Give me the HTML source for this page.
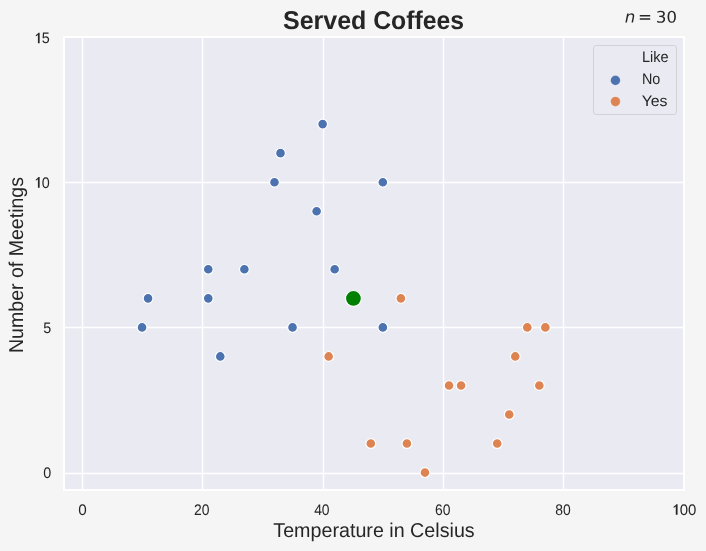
<!DOCTYPE html>
<html><head><meta charset="utf-8"><title>Served Coffees</title>
<style>
html,body{margin:0;padding:0;background:#f5f5f5;}
body{width:706px;height:551px;overflow:hidden;}
svg{display:block;will-change:transform;}
text{font-family:"Liberation Sans",sans-serif;fill:#262626;white-space:pre;text-rendering:geometricPrecision;}
.tk{font-size:15.28px;}
.lb{font-size:20px;}
.ti{font-size:25.7px;font-weight:bold;}
.lg{font-size:15.28px;}
</style></head><body>
<svg width="706" height="551" viewBox="0 0 706 551">
<rect x="0" y="0" width="706" height="551" fill="#f5f5f5"/>
<rect x="64.0" y="37.0" width="620.0" height="453.0" fill="#eaeaf2"/>
<g stroke="#ffffff" stroke-width="1.39" fill="none">
<line x1="82.5" y1="37.0" x2="82.5" y2="490.0"/>
<line x1="202.5" y1="37.0" x2="202.5" y2="490.0"/>
<line x1="323.5" y1="37.0" x2="323.5" y2="490.0"/>
<line x1="443.5" y1="37.0" x2="443.5" y2="490.0"/>
<line x1="563.5" y1="37.0" x2="563.5" y2="490.0"/>
<line x1="64.0" y1="473.5" x2="684.0" y2="473.5"/>
<line x1="64.0" y1="327.5" x2="684.0" y2="327.5"/>
<line x1="64.0" y1="182.5" x2="684.0" y2="182.5"/>
</g>
<g stroke="#ffffff" stroke-width="1.2" fill="#4c72b0">
<circle cx="142.05" cy="327.38" r="4.9"/>
<circle cx="148.07" cy="298.35" r="4.9"/>
<circle cx="208.27" cy="269.31" r="4.9"/>
<circle cx="208.27" cy="298.35" r="4.9"/>
<circle cx="220.30" cy="356.42" r="4.9"/>
<circle cx="244.38" cy="269.31" r="4.9"/>
<circle cx="274.48" cy="182.19" r="4.9"/>
<circle cx="280.50" cy="153.15" r="4.9"/>
<circle cx="292.54" cy="327.38" r="4.9"/>
<circle cx="316.62" cy="211.23" r="4.9"/>
<circle cx="322.63" cy="124.12" r="4.9"/>
<circle cx="334.67" cy="269.31" r="4.9"/>
<circle cx="382.83" cy="182.19" r="4.9"/>
<circle cx="382.83" cy="327.38" r="4.9"/>
</g>
<g stroke="#ffffff" stroke-width="1.2" fill="#dd8452">
<circle cx="328.65" cy="356.42" r="4.9"/>
<circle cx="370.79" cy="443.54" r="4.9"/>
<circle cx="400.89" cy="298.35" r="4.9"/>
<circle cx="406.91" cy="443.54" r="4.9"/>
<circle cx="424.97" cy="472.58" r="4.9"/>
<circle cx="449.04" cy="385.46" r="4.9"/>
<circle cx="461.08" cy="385.46" r="4.9"/>
<circle cx="497.20" cy="443.54" r="4.9"/>
<circle cx="509.24" cy="414.50" r="4.9"/>
<circle cx="515.26" cy="356.42" r="4.9"/>
<circle cx="527.30" cy="327.38" r="4.9"/>
<circle cx="539.33" cy="385.46" r="4.9"/>
<circle cx="545.35" cy="327.38" r="4.9"/>
</g>
<circle cx="353.43" cy="298.45" r="7.95" fill="#008000" stroke="#ffffff" stroke-width="1.15"/>
<rect x="64.0" y="37.0" width="620.0" height="453.0" fill="none" stroke="#ffffff" stroke-width="2"/>
<rect x="593.5" y="45.5" width="83" height="69" rx="2.8" ry="2.8" fill="#eaeaf2" fill-opacity="0.8" stroke="#cccccc" stroke-opacity="0.8" stroke-width="1"/>
<circle cx="615.45" cy="80.4" r="4.85" fill="#4c72b0" stroke="#fff" stroke-width="0.5" stroke-opacity="0.5"/>
<circle cx="615.45" cy="101.55" r="4.85" fill="#dd8452" stroke="#fff" stroke-width="0.5" stroke-opacity="0.5"/>
<text id="xt0" class="tk" x="78.14" y="514.85" textLength="8.50" lengthAdjust="spacingAndGlyphs">0</text>
<text id="xt20" class="tk" x="194.01" y="514.85" textLength="15.46" lengthAdjust="spacingAndGlyphs">20</text>
<text id="xt40" class="tk" x="314.15" y="514.85" textLength="15.46" lengthAdjust="spacingAndGlyphs">40</text>
<text id="xt60" class="tk" x="434.94" y="514.85" textLength="15.46" lengthAdjust="spacingAndGlyphs">60</text>
<text id="xt80" class="tk" x="555.33" y="514.85" textLength="15.46" lengthAdjust="spacingAndGlyphs">80</text>
<path fill="#262626" transform="translate(671.36,514.85) scale(14.974,-15.28)" d="M0.415,0L0.295,0L0.295,0.545Q0.225,0.485 0.15,0.452L0.15,0.535Q0.27,0.595 0.335,0.693L0.415,0.693Z"/>
<text id="xt100" class="tk" x="679.69" y="514.85" textLength="16.65" lengthAdjust="spacingAndGlyphs">00</text>
<text id="yt0" class="tk" x="43.36" y="478.03" textLength="7.99" lengthAdjust="spacingAndGlyphs">0</text>
<text id="yt5" class="tk" x="43.36" y="332.83" textLength="7.99" lengthAdjust="spacingAndGlyphs">5</text>
<path fill="#262626" transform="translate(33.68,187.64) scale(14.363,-15.28)" d="M0.415,0L0.295,0L0.295,0.545Q0.225,0.485 0.15,0.452L0.15,0.535Q0.27,0.595 0.335,0.693L0.415,0.693Z"/>
<text id="yt10" class="tk" x="41.66" y="187.64" textLength="7.99" lengthAdjust="spacingAndGlyphs">0</text>
<path fill="#262626" transform="translate(33.68,43.25) scale(14.363,-15.28)" d="M0.415,0L0.295,0L0.295,0.545Q0.225,0.485 0.15,0.452L0.15,0.535Q0.27,0.595 0.335,0.693L0.415,0.693Z"/>
<text id="yt15" class="tk" x="41.66" y="43.25" textLength="7.99" lengthAdjust="spacingAndGlyphs">5</text>
<text id="lgL" class="lg" x="641.90" y="61.90" textLength="26.65" lengthAdjust="spacingAndGlyphs">Like</text>
<text id="lgN" class="lg" x="641.90" y="83.60" textLength="18.40" lengthAdjust="spacingAndGlyphs">No</text>
<text id="lgY" class="lg" x="641.65" y="105.60" textLength="25.90" lengthAdjust="spacingAndGlyphs">Yes</text>
<text id="xl" class="lb" x="273.30" y="536.90" textLength="201.40" lengthAdjust="spacingAndGlyphs">Temperature in Celsius</text>
<text id="yl" class="lb" transform="translate(22.9,353.0) rotate(-90)" textLength="176.00" lengthAdjust="spacingAndGlyphs">Number of Meetings</text>
<text id="t1" class="ti" x="283.00" y="28.70" textLength="83.40" lengthAdjust="spacingAndGlyphs">Served</text>
<text id="t2" class="ti" x="373.20" y="28.70" textLength="90.80" lengthAdjust="spacingAndGlyphs">Coffees</text>
<g fill="#262626" transform="translate(624.8 22.6) scale(0.0026042 -0.0026042)">
<path d="M3566 2113L3156 0L2578 0L2988 2091Q3016 2238 3031 2350Q3047 2463 3047 2528Q3047 2791 2881 2937Q2716 3084 2419 3084Q1956 3084 1622 2776Q1288 2469 1184 1941L800 0L225 0L903 3500L1478 3500L1363 2950Q1603 3253 1940 3418Q2278 3584 2650 3584Q3113 3584 3367 3334Q3622 3084 3622 2631Q3622 2519 3608 2391Q3594 2263 3566 2113z"/>
<path transform="translate(5073 0)" d="M678 2906L4684 2906L4684 2381L678 2381L678 2906zM678 1631L4684 1631L4684 1100L678 1100L678 1631z"/>
<path transform="translate(11912.5 0) scale(1 0.955)" d="M2597 2516Q3050 2419 3304 2112Q3559 1806 3559 1356Q3559 666 3084 287Q2609 -91 1734 -91Q1441 -91 1130 -33Q819 25 488 141L488 750Q750 597 1062 519Q1375 441 1716 441Q2309 441 2620 675Q2931 909 2931 1356Q2931 1769 2642 2001Q2353 2234 1838 2234L1294 2234L1294 2753L1863 2753Q2328 2753 2575 2939Q2822 3125 2822 3475Q2822 3834 2567 4026Q2313 4219 1838 4219Q1578 4219 1281 4162Q984 4106 628 3988L628 4550Q988 4650 1302 4700Q1616 4750 1894 4750Q2613 4750 3031 4423Q3450 4097 3450 3541Q3450 3153 3228 2886Q3006 2619 2597 2516z"/>
<path transform="translate(15984.4 0) scale(1 0.955)" d="M2034 4250Q1547 4250 1301 3770Q1056 3291 1056 2328Q1056 1369 1301 889Q1547 409 2034 409Q2525 409 2770 889Q3016 1369 3016 2328Q3016 3291 2770 3770Q2525 4250 2034 4250zM2034 4750Q2819 4750 3233 4129Q3647 3509 3647 2328Q3647 1150 3233 529Q2819 -91 2034 -91Q1250 -91 836 529Q422 1150 422 2328Q422 3509 836 4129Q1250 4750 2034 4750z"/>
</g>
</svg>
</body></html>
